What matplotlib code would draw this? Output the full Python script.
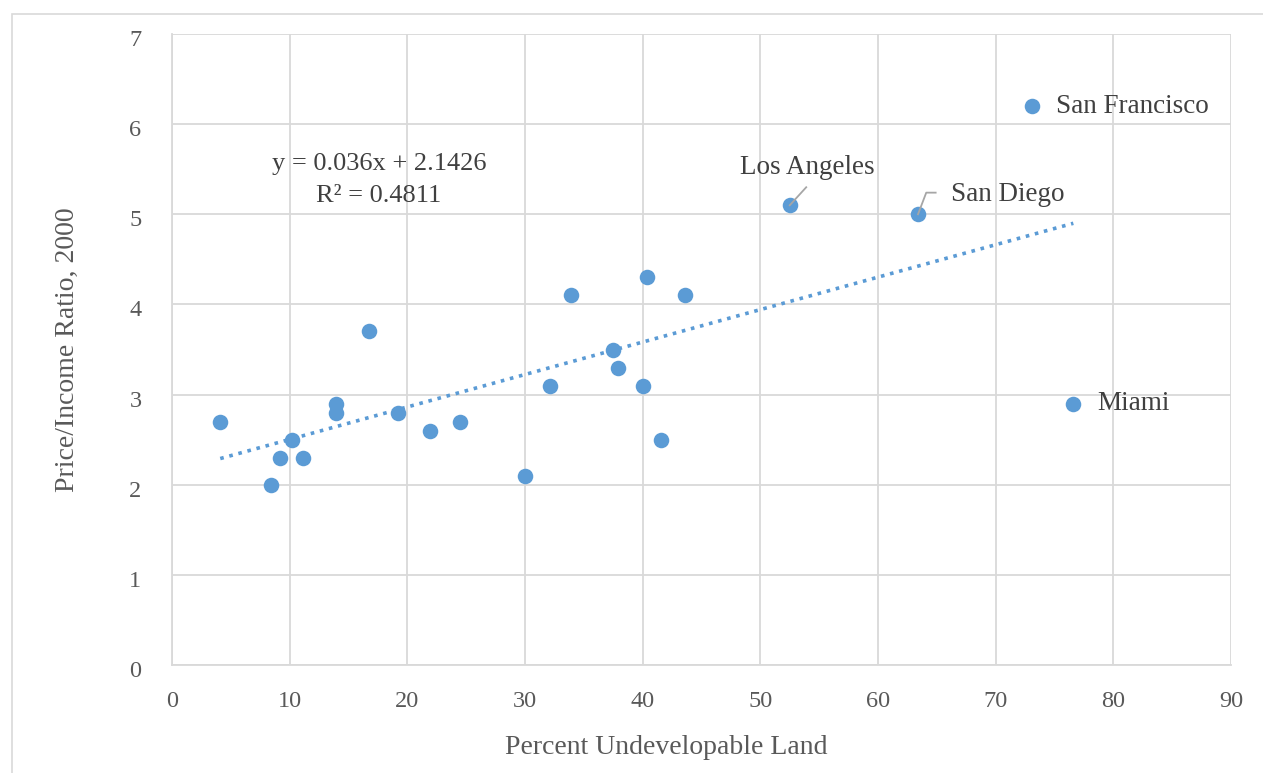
import matplotlib
matplotlib.use("Agg")
import matplotlib.pyplot as plt
import matplotlib.transforms as mtransforms
import numpy as np
from matplotlib.patches import Rectangle

# Data
undevelopable = [4.1, 8.4, 9.2, 10.2, 11.1, 13.9, 13.9, 16.7, 19.2, 21.9, 24.5,
                 30.0, 32.1, 33.9, 37.5, 37.9, 40.0, 40.4, 41.6, 43.6,
                 52.5, 63.4, 73.1, 76.6]
price_income = [2.7, 2.0, 2.3, 2.5, 2.3, 2.9, 2.8, 3.7, 2.8, 2.6, 2.7,
                2.1, 3.1, 4.1, 3.5, 3.3, 3.1, 4.3, 2.5, 4.1,
                5.1, 5.0, 6.2, 2.9]
labeled_cities = {"Los Angeles": 20, "San Diego": 21, "San Francisco": 22, "Miami": 23}
slope, intercept, r2 = 0.036, 2.1426, 0.4811
x_ticks = list(range(0, 91, 10))
y_ticks = list(range(0, 8))

plt.rcParams['font.family'] = ['Liberation Serif', 'DejaVu Serif']
W, H = 1263, 773
fig = plt.figure(figsize=(W / 100, H / 100), dpi=100)

# outer chart border
fig.patches.append(Rectangle((12 / W, -0.05), 1.2, 1 - 14 / H + 0.05,
                             transform=fig.transFigure, fill=False,
                             edgecolor='#d9d9d9', linewidth=1.2))

ax = fig.add_axes([172 / W, 1 - 665 / H, (1231 - 172) / W, (665 - 34) / H])
blue = '#5b9bd5'
grid_c = '#d9d9d9'
tick_c = '#595959'
text_c = '#404040'
lab_fs = 19.5

ax.set_xlim(0, 90)
ax.set_ylim(0, 7)
ax.set_xticks(x_ticks)
ax.set_yticks(y_ticks)
ax.grid(True, color=grid_c, linewidth=1.3)
ax.set_axisbelow(True)
for s in ['top', 'right']:
    ax.spines[s].set_visible(False)
for s in ['left', 'bottom']:
    ax.spines[s].set_color(grid_c)
    ax.spines[s].set_linewidth(1.3)
ax.tick_params(length=0, labelsize=17.5, colors=tick_c)
ax.tick_params(axis='x', pad=19)
ax.tick_params(axis='y', pad=22)
shift = mtransforms.ScaledTranslation(0, -4 / 100, fig.dpi_scale_trans)
for lbl in ax.get_yticklabels():
    lbl.set_transform(lbl.get_transform() + shift)

ax.scatter(undevelopable, price_income, s=125, color=blue, zorder=3, linewidths=0)

# trendline
xs = np.array([min(undevelopable), max(undevelopable)])
ax.plot(xs, slope * xs + intercept, linestyle=(0, (1, 1.6)), color=blue,
        linewidth=2.6, zorder=2)

ax.text(17.6, 5.38, f"y = {slope}x + {intercept}\nR² = {r2}", ha='center', va='center',
        fontsize=19, color=text_c, linespacing=1.55)

# labels
i = labeled_cities["San Francisco"]
ax.text(undevelopable[i] + 2.0, price_income[i], "San Francisco", ha='left', va='center',
        fontsize=lab_fs, color=text_c)
i = labeled_cities["Miami"]
ax.text(undevelopable[i] + 2.0, price_income[i], "Miami", ha='left', va='center',
        fontsize=lab_fs, color=text_c)
i = labeled_cities["Los Angeles"]
ax.text(undevelopable[i] + 1.5, price_income[i] + 0.42, "Los Angeles", ha='center', va='center',
        fontsize=lab_fs, color=text_c)
ax.plot([undevelopable[i], undevelopable[i] + 1.4], [price_income[i], price_income[i] + 0.2],
        color='#a6a6a6', linewidth=1.3, zorder=4)
i = labeled_cities["San Diego"]
ax.text(undevelopable[i] + 2.8, price_income[i] + 0.22, "San Diego", ha='left', va='center',
        fontsize=lab_fs, color=text_c)
ax.plot([undevelopable[i], undevelopable[i] + 0.7, undevelopable[i] + 1.5],
        [price_income[i], price_income[i] + 0.24, price_income[i] + 0.24],
        color='#a6a6a6', linewidth=1.3, zorder=4)

fig.text(666 / W, 1 - 748 / H, "Percent Undevelopable Land", ha='center', va='center',
         fontsize=20, color=tick_c)
fig.text(67 / W, 1 - 350 / H, "Price/Income Ratio, 2000", ha='center', va='center',
         rotation=90, fontsize=20, color=tick_c)

fig.savefig("out.png", dpi=100)
